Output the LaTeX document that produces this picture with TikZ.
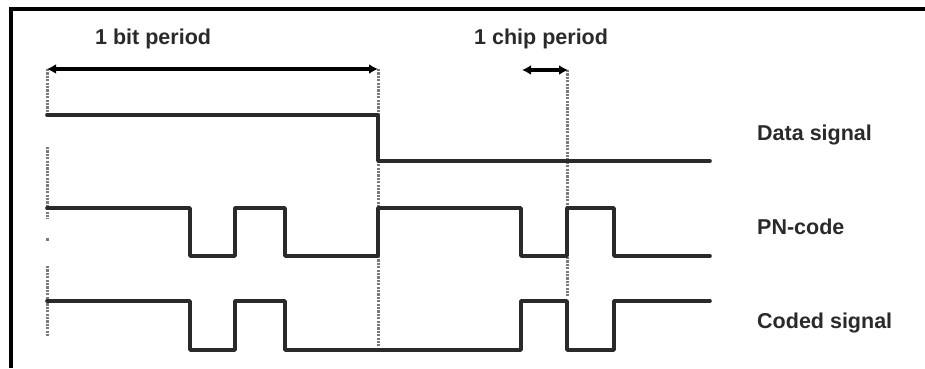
\documentclass[tikz,border=0pt]{standalone}
\usepackage{fontspec}
\setmainfont{Liberation Sans}
\usetikzlibrary{arrows.meta}
\definecolor{sig}{HTML}{2A2A2A}
\definecolor{dotc}{HTML}{7A7A7A}
\tikzset{
  x=1pt,y=1pt,
  frameline/.style={line width=4.5pt,black},
  signal/.style={line width=3.6pt,sig,line join=round,line cap=round},
  dotline/.style={line width=3pt,dotc,dash pattern=on 2.2pt off 1.2pt},
  dim/.style={line width=3.4pt,black,{Latex[length=9pt,width=10pt]}-{Latex[length=9pt,width=10pt]}},
  lbl/.style={font=\bfseries\fontsize{21.5}{24}\selectfont,text=sig,inner sep=0pt,anchor=base west}
}
\begin{document}
\begin{tikzpicture}
\useasboundingbox (0,0) rectangle (925,368);
% frame
\draw[frameline] (925,359) -- (11,359) -- (11,0);
% dotted guides
\draw[dotline] (47,299) -- (47,253);
\draw[dotline] (47,221) -- (47,149);
\fill[dotc] (45.5,127.5) rectangle (48.5,130.5);
\draw[dotline] (47,102) -- (47,32);
\draw[dotline] (378,299) -- (378,22);
\draw[dotline] (567,298) -- (567,72);
% dimension arrows
\coordinate (b1) at (47,299);
\coordinate (b2) at (378,299);
\coordinate (c1) at (522,298);
\coordinate (c2) at (568,298);
\draw[dim] (b1) -- (b2);
\draw[dim] (c1) -- (c2);
% signals
\draw[signal] (47,253) -- (378,253) -- (378,207) -- (710,207);
\draw[signal] (47,160) -- (190,160) -- (190,112) -- (235,112) -- (235,160) -- (285,160) -- (285,112)
  -- (378,112) -- (378,160) -- (521,160) -- (521,112) -- (567,112) -- (567,160) -- (614,160) -- (614,112) -- (710,112);
\draw[signal] (47,67) -- (190,67) -- (190,18) -- (235,18) -- (235,67) -- (285,67) -- (285,18)
  -- (521,18) -- (521,67) -- (567,67) -- (567,18) -- (614,18) -- (614,67) -- (710,67);
% labels
\node[lbl] (tb) at (95,324) {1 bit period};
\node[lbl] (tc) at (474,324) {1 chip period};
\node[lbl] (td) at (757,228) {Data signal};
\node[lbl] (tp) at (757,134) {PN-code};
\node[lbl] (tcs) at (757,40) {Coded signal};
\end{tikzpicture}
\end{document}
